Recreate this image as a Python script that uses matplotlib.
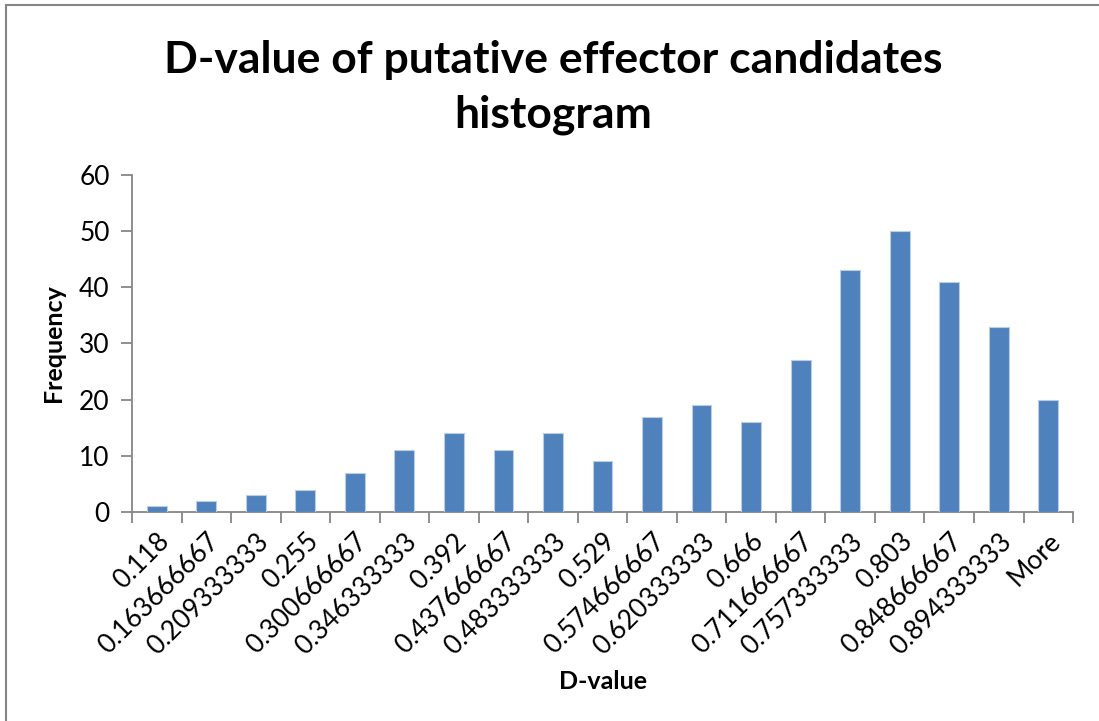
import matplotlib
matplotlib.use("Agg")
import matplotlib.pyplot as plt
from matplotlib.patches import Rectangle

bins = ["0.118", "0.163666667", "0.209333333", "0.255", "0.300666667",
        "0.346333333", "0.392", "0.437666667", "0.483333333", "0.529",
        "0.574666667", "0.620333333", "0.666", "0.711666667", "0.757333333",
        "0.803", "0.848666667", "0.894333333", "More"]
frequency = [1, 2, 3, 4, 7, 11, 14, 11, 14, 9, 17, 19, 16, 27, 43, 50, 41, 33, 20]
y_ticks = [0, 10, 20, 30, 40, 50, 60]

plt.rcParams['font.family'] = ['Lato', 'DejaVu Sans']

fig = plt.figure(figsize=(10.99, 7.21), dpi=100)
ax = fig.add_axes([0.1201, 0.2899, 0.8563, 0.4674])

x = list(range(len(bins)))
ax.bar(x, frequency, width=0.4, color="#4F81BD", edgecolor="#B9CDE5", linewidth=0.8, zorder=3)

ax.set_xlim(-0.5, len(bins) - 0.5)
ax.set_ylim(0, 60)
ax.set_yticks(y_ticks)
ax.set_yticklabels([str(v) for v in y_ticks], fontsize=19)

ax.set_xticks(x)
ax.set_xticklabels(bins, rotation=45, ha="right", rotation_mode="anchor", fontsize=19)
ax.tick_params(axis="x", length=0, pad=12)
ax.set_xticks([i - 0.5 for i in range(len(bins) + 1)], minor=True)
ax.tick_params(axis="x", which="minor", length=8, width=1.3, color="#868686", direction="out")
ax.tick_params(axis="y", length=8, width=1.3, color="#868686", direction="out", pad=8)

for side in ("top", "right"):
    ax.spines[side].set_visible(False)
for side in ("left", "bottom"):
    ax.spines[side].set_color("#868686")
    ax.spines[side].set_linewidth(1.3)

ax.set_ylabel("Frequency", fontsize=18, fontweight="bold", labelpad=10)
ax.set_xlabel("D-value", fontsize=18, fontweight="bold", labelpad=8)

fig.text(0.503, 0.879, "D-value of putative effector candidates\nhistogram",
         ha="center", va="center", fontsize=32, fontweight="bold", linespacing=1.45)

fig.patches.append(Rectangle((6 / 1099, -0.01), 1.02, 1 - 5 / 721 + 0.01,
                             transform=fig.transFigure, fill=False,
                             edgecolor="#868686", linewidth=1.5))

fig.savefig("out.png", dpi=100)
